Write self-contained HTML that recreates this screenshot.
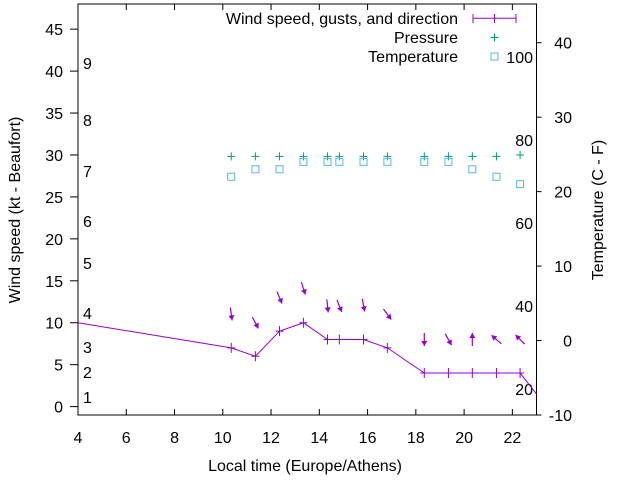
<!DOCTYPE html>
<html><head><meta charset="utf-8"><style>
body{margin:0;background:#fff}
svg text{font-family:"Liberation Sans",sans-serif;font-size:16px;fill:#000}
</style></head><body>
<svg id="c" width="640" height="480" xmlns="http://www.w3.org/2000/svg"></svg>
<script>
const times=[10.35,11.35,12.35,13.34,14.34,14.83,15.83,16.82,18.35,19.35,20.34,21.34,22.32];
const windKt=[7,6,9,10,8,8,8,7,4,4,4,4,4];
const arrowKt=[11.05,10.0,13.0,14.1,12.0,12.0,12.1,11.0,8.0,8.0,8.0,8.0,8.0];
const arrowHeading=[172,152,157,162,174,159,169,143,180,151,0,311,315];
const pressureInHg=[29.83,29.83,29.83,29.83,29.83,29.83,29.83,29.83,29.83,29.83,29.83,29.83,30.0];
const tempC=[22,23,23,24,24,24,24,24,24,24,23,22,21];
const xTicks=[4,6,8,10,12,14,16,18,20,22];
const yTicks=[0,5,10,15,20,25,30,35,40,45];
const y2Ticks=[-10,0,10,20,30,40];
const beaufortLabels=[[1,397],[2,372],[3,347],[4,313],[5,263],[6,221],[7,171],[8,120],[9,63]];
const fLabels=[[100,57],[80,140],[60,223],[40,306],[20,389]];
const L=78,R=536.5,T=4,B=415;
const X=t=>L+(t-4)*(R-L)/19;
const Y=v=>B-(v+1)*(B-T)/49;
const Y2=v=>B-(v+10)*(B-T)/55.2;
const svg=document.getElementById('c');
const NS='http://www.w3.org/2000/svg';
function mk(tag,at,txt){const e=document.createElementNS(NS,tag);for(const k in at)e.setAttribute(k,at[k]);if(txt!==undefined)e.textContent=txt;svg.appendChild(e);return e;}
const P='#9400d3';
let e;
e=mk('rect',{x:L,y:T,width:R-L,height:B-T,fill:'none',stroke:'#000','stroke-width':1});


xTicks.forEach(t=>{
 e=mk('line',{x1:X(t),x2:X(t),y1:B,y2:B-6,stroke:'#000'});
 
 
 mk('line',{x1:X(t),x2:X(t),y1:T,y2:T+6,stroke:'#000'});
 e=mk('text',{x:X(t),y:B+28,'text-anchor':'middle'},t);
 
 
});
yTicks.forEach(v=>{
 e=mk('line',{x1:L,x2:L-8,y1:Y(v),y2:Y(v),stroke:'#000'});
 
 
 e=mk('text',{x:L-15,y:Y(v)+6,'text-anchor':'end'},v);
 
 
});
y2Ticks.forEach(v=>{
 e=mk('line',{x1:R,x2:R+5,y1:Y2(v),y2:Y2(v),stroke:'#000'});
 
 
 e=mk('text',{x:572,y:Y2(v)+6,'text-anchor':'end'},v);
 
 
});
beaufortLabels.forEach(b=>{
 e=mk('text',{x:83,y:b[1]+6},b[0]);
 
 
});
fLabels.forEach(f=>{
 e=mk('text',{x:533,y:f[1]+6,'text-anchor':'end'},f[0]);
 
 
});
let pts=[[X(4),Y(10)]].concat(times.map((t,i)=>[X(t),Y(windKt[i])])).concat([[R,Y(1.5)]]);
e=mk('polyline',{points:pts.map(p=>p.join(',')).join(' '),fill:'none',stroke:P,'stroke-width':1});


times.forEach((t,i)=>{
 const x=X(t),y=Y(windKt[i]);
 e=mk('path',{d:`M${x-4},${y}H${x+4}M${x},${y-5}V${y+5}`,stroke:P,'stroke-width':1});
 
 
});
times.forEach((t,i)=>{
 const cx=X(t),cy=Y(arrowKt[i]),a=arrowHeading[i]*Math.PI/180,len=13;
 const dx=Math.sin(a),dy=-Math.cos(a);
 const x1=cx-dx*len/2,y1=cy-dy*len/2,x2=cx+dx*len/2,y2=cy+dy*len/2;
 const g=mk('g',{});
 
 
 const l=document.createElementNS(NS,'line');
 l.setAttribute('x1',x1);l.setAttribute('y1',y1);l.setAttribute('x2',x2);l.setAttribute('y2',y2);
 l.setAttribute('stroke',P);l.setAttribute('stroke-width','1.2');g.appendChild(l);
 const px=-dy,py=dx,h=5,w=3;
 const tri=document.createElementNS(NS,'polygon');
 tri.setAttribute('points',`${x2},${y2} ${x2-dx*h+px*w},${y2-dy*h+py*w} ${x2-dx*h-px*w},${y2-dy*h-py*w}`);
 tri.setAttribute('fill',P);g.appendChild(tri);
});
times.forEach((t,i)=>{
 const x=X(t),y=Y(pressureInHg[i]);
 e=mk('path',{d:`M${x-4},${y}H${x+4}M${x},${y-4}V${y+4}`,stroke:'#009e73','stroke-width':1});
 
 
});
times.forEach((t,i)=>{
 const x=X(t),y=Y2(tempC[i]);
 e=mk('rect',{x:x-3.5,y:y-3.5,width:7,height:7,fill:'none',stroke:'#56b4e9','stroke-width':1});
 
 
});
e=mk('text',{x:458,y:24,'text-anchor':'end'},'Wind speed, gusts, and direction');


e=mk('path',{d:'M473,18.3H516M473,14V23M494.5,14V23M516,14V23',stroke:P,fill:'none'});


e=mk('text',{x:458,y:43,'text-anchor':'end'},'Pressure');


e=mk('path',{d:'M490.5,37.5H498.5M494.5,33.5V41.5',stroke:'#009e73'});


e=mk('text',{x:458,y:62,'text-anchor':'end'},'Temperature');


e=mk('rect',{x:491,y:53,width:7,height:7,fill:'none',stroke:'#56b4e9'});


e=mk('text',{x:305,y:471,'text-anchor':'middle'},'Local time (Europe/Athens)');


e=mk('text',{x:0,y:0,'text-anchor':'middle',transform:'translate(20,210) rotate(-90)'},'Wind speed (kt - Beaufort)');


e=mk('text',{x:0,y:0,'text-anchor':'middle',transform:'translate(603,210) rotate(-90)'},'Temperature (C - F)');


</script>
</body></html>
